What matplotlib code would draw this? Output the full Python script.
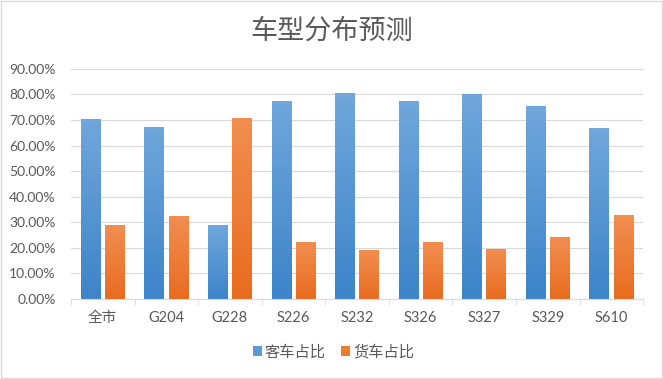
import matplotlib
matplotlib.use("Agg")
import matplotlib.pyplot as plt
import numpy as np
from matplotlib.patches import Rectangle
from matplotlib.colors import LinearSegmentedColormap

plt.rcParams['font.family'] = ['Lato', 'Noto Sans CJK SC', 'DejaVu Sans']

categories = ['全市', 'G204', 'G228', 'S226', 'S232', 'S326', 'S327', 'S329', 'S610']
passenger = [0.705, 0.673, 0.290, 0.776, 0.804, 0.775, 0.800, 0.756, 0.669]
freight = [0.290, 0.325, 0.708, 0.222, 0.191, 0.222, 0.195, 0.242, 0.329]
series_names = ['客车占比', '货车占比']
yticks = [0, 0.1, 0.2, 0.3, 0.4, 0.5, 0.6, 0.7, 0.8, 0.9]

fig = plt.figure(figsize=(6.63, 3.79), dpi=100)
fig.patches.append(Rectangle((0.002, 0.003), 0.996, 0.994, transform=fig.transFigure,
                             fill=False, edgecolor='#d9d9d9', lw=1.0))
ax = fig.add_axes([0.107, 0.212, 0.863, 0.606])

x = np.arange(len(categories))
w = 0.31
off = 0.19
b1 = ax.bar(x - off, passenger, w, color='#5B9BD5', label=series_names[0], zorder=2)
b2 = ax.bar(x + off, freight, w, color='#ED7D31', label=series_names[1], zorder=2)

cm_blue = LinearSegmentedColormap.from_list('b', ['#3d84c9', '#70a7dc'])
cm_orange = LinearSegmentedColormap.from_list('o', ['#e86c1f', '#f28e50'])
grad = np.linspace(0, 1, 256).reshape(-1, 1)
for bars, cmap in ((b1, cm_blue), (b2, cm_orange)):
    for r in bars:
        x0, y0 = r.get_x(), r.get_y()
        x1, y1 = x0 + r.get_width(), y0 + r.get_height()
        im = ax.imshow(grad, extent=(x0, x1, y0, y1), origin='lower', cmap=cmap,
                       aspect='auto', zorder=2.5)
        im.set_clip_path(r)

ax.set_xlim(-0.5, len(categories) - 0.5)
ax.set_ylim(0, 0.9)
ax.set_yticks(yticks)
ax.set_yticklabels([f'{v*100:.2f}%' for v in yticks], fontsize=10, color='#595959')
ax.set_xticks(x)
ax.set_xticklabels(categories, fontsize=10.5, color='#595959')
ax.set_xticks(np.arange(len(categories) + 1) - 0.5, minor=True)
ax.tick_params(axis='x', which='major', length=0, pad=9)
ax.tick_params(axis='x', which='minor', length=4, color='#d9d9d9', direction='out')
ax.tick_params(axis='y', length=0, pad=11)
ax.grid(axis='y', color='#d9d9d9', lw=0.8, zorder=0)
for s in ['top', 'right', 'left']:
    ax.spines[s].set_visible(False)
ax.spines['bottom'].set_color('#d9d9d9')

fig.text(0.5, 0.918, '车型分布预测', ha='center', va='center', fontsize=19.5,
         color='#595959', family=['Noto Sans CJK SC'], weight='medium')

leg = fig.legend(handles=[b1, b2], labels=series_names, loc='center',
                 bbox_to_anchor=(0.503, 0.071), ncol=2, frameon=False, fontsize=11,
                 handlelength=0.6, handleheight=0.6, handletextpad=0.2, columnspacing=1.0,
                 labelcolor='#595959')

fig.savefig('out.png', dpi=100)
